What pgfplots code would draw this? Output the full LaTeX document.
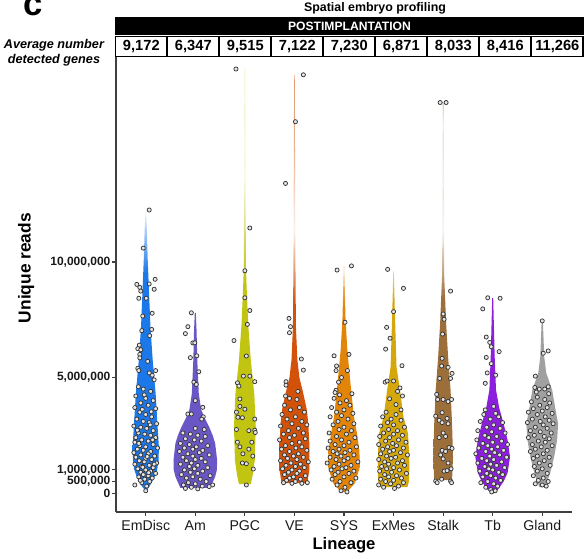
\documentclass[border=0pt]{standalone}
\usepackage{fontspec}
\setmainfont{Liberation Sans}
\usepackage{pgfplots}
\pgfplotsset{compat=1.18}

\definecolor{cEm}{RGB}{28,120,232}
\definecolor{cAm}{RGB}{106,86,196}
\definecolor{cPGC}{RGB}{194,196,18}
\definecolor{cVE}{RGB}{210,82,10}
\definecolor{cSYS}{RGB}{226,132,8}
\definecolor{cEx}{RGB}{212,168,12}
\definecolor{cSt}{RGB}{156,110,58}
\definecolor{cTb}{RGB}{140,30,222}
\definecolor{cGl}{RGB}{160,160,160}

% violins fade to white towards the thin upper tail
\pgfdeclareverticalshading{fEm}{100bp}{color(0bp)=(cEm); color(64bp)=(cEm); color(75bp)=(cEm!8!white); color(100bp)=(cEm!8!white)}
\pgfdeclareverticalshading{fPGC}{100bp}{color(0bp)=(cPGC); color(50bp)=(cPGC); color(62bp)=(cPGC!10!white); color(75bp)=(cPGC!40!white); color(100bp)=(cPGC!40!white)}
\pgfdeclareverticalshading{fVE}{100bp}{color(0bp)=(cVE); color(47bp)=(cVE); color(56bp)=(cVE!8!white); color(66bp)=(cVE!45!white); color(75bp)=(cVE!60!white); color(100bp)=(cVE!60!white)}
\pgfdeclareverticalshading{fSYS}{100bp}{color(0bp)=(cSYS); color(66bp)=(cSYS); color(75bp)=(cSYS!30!white); color(100bp)=(cSYS!30!white)}
\pgfdeclareverticalshading{fEx}{100bp}{color(0bp)=(cEx); color(68bp)=(cEx); color(75bp)=(cEx!50!white); color(100bp)=(cEx!50!white)}
\pgfdeclareverticalshading{fSt}{100bp}{color(0bp)=(cSt); color(49bp)=(cSt); color(58bp)=(cSt!8!white); color(72bp)=(cSt!30!white); color(75bp)=(cSt); color(100bp)=(cSt)}

\pgfplotsset{pts/.style={only marks, mark=*, mark size=1.55pt,
  mark options={fill=black!10, draw=black!80, line width=0.55pt}}}

\begin{document}
\begin{tikzpicture}
\path[use as bounding box] (-87pt,-34.5pt) rectangle (354pt,384pt);

\begin{axis}[
    at={(0,0)}, anchor=south west,
    scale only axis, width=342pt, height=341.25pt,
    xmin=0.4, xmax=9.6, ymin=-0.82, ymax=18.87,
    axis lines*=left,
    axis line style={black!75, line width=1pt},
    tick align=outside, major tick length=3pt,
    tick style={black!75, line width=0.8pt},
    xtick={1,2,3,4,5,6,7,8,9},
    xticklabels={EmDisc,Am,PGC,VE,SYS,ExMes,Stalk,Tb,Gland},
    xticklabel style={font=\fontsize{10.6}{12}\selectfont, text=black!90},
    ytick={0,0.5,1,5,10},
    yticklabels={0,{500,000},{1,000,000},{5,000,000},{10,000,000}},
    yticklabel style={font=\bfseries\fontsize{9}{10}\selectfont, inner sep=1pt, text=black!90},
    xlabel={Lineage},
    xlabel style={at={(axis description cs:0.5,-0.072)}, anchor=center,
      font=\bfseries\fontsize{12.5}{14}\selectfont},
    ylabel={Unique reads},
    ylabel style={at={(axis description cs:-0.197,0.536)}, anchor=center,
      font=\bfseries\fontsize{13}{15}\selectfont},
]
% ---- EmDisc ----
\addplot[draw=none, shade, shading=fEm] coordinates {
 (1,0.09) (1.08,0.3) (1.18,0.7) (1.23,1.0) (1.26,1.43) (1.265,2.0) (1.24,2.86) (1.2,4.3)
 (1.14,5.76) (1.095,7.2) (1.067,8.66) (1.04,10.1) (1.02,11.5) (1.005,12.2)
 (0.995,12.2) (0.98,11.5) (0.96,10.1) (0.933,8.66) (0.905,7.2) (0.86,5.76) (0.8,4.3)
 (0.76,2.86) (0.735,2.0) (0.74,1.43) (0.77,1.0) (0.82,0.7) (0.92,0.3) (1,0.09)};
% ---- Am ----
\addplot[draw=none, fill=cAm] coordinates {
 (2.30,0.22) (2.40,0.7) (2.435,1.0) (2.44,1.43) (2.40,2.16) (2.35,2.5) (2.28,2.86) (2.2,3.2)
 (2.12,3.6) (2.07,4.3) (2.04,5.76) (2.026,7.0) (2.01,7.8)
 (1.99,7.8) (1.974,7.0) (1.96,5.76) (1.93,4.3) (1.88,3.6) (1.8,3.2) (1.72,2.86) (1.65,2.5)
 (1.60,2.16) (1.56,1.43) (1.565,1.0) (1.60,0.7) (1.70,0.22)};
% ---- PGC ----
\addplot[draw=none, shade, shading=fPGC] coordinates {
 (3.12,0.39) (3.16,0.8) (3.2,1.43) (3.22,2.86) (3.19,4.3) (3.12,5.75) (3.07,7.2) (3.04,8.66)
 (3.02,9.8) (3.014,14) (3.004,18.35)
 (2.996,18.35) (2.986,14) (2.98,9.8) (2.96,8.66) (2.93,7.2) (2.88,5.75) (2.81,4.3) (2.78,2.86)
 (2.8,1.43) (2.84,0.8) (2.88,0.39)};
% ---- VE ----
\addplot[draw=none, shade, shading=fVE] coordinates {
 (4.26,0.43) (4.30,1.0) (4.30,2.16) (4.28,3.0) (4.25,3.6) (4.18,4.3) (4.10,5.0) (4.06,5.75)
 (4.03,7.2) (4.02,10) (4.006,18.1)
 (3.994,18.1) (3.98,10) (3.97,7.2) (3.94,5.75) (3.90,5.0) (3.82,4.3) (3.75,3.6) (3.72,3.0)
 (3.70,2.16) (3.70,1.0) (3.74,0.43)};
% ---- SYS ----
\addplot[draw=none, shade, shading=fSYS] coordinates {
 (5.06,0.04) (5.22,0.43) (5.32,1.13) (5.31,1.86) (5.26,2.6) (5.2,3.3) (5.13,4.76) (5.067,6.2)
 (5.03,7.6) (5.005,9.83)
 (4.995,9.83) (4.97,7.6) (4.933,6.2) (4.87,4.76) (4.8,3.3) (4.74,2.6) (4.69,1.86) (4.68,1.13)
 (4.78,0.43) (4.94,0.04)};
% ---- ExMes ----
\addplot[draw=none, shade, shading=fEx] coordinates {
 (6.28,0.26) (6.31,0.5) (6.32,1.13) (6.31,1.9) (6.29,2.6) (6.2,3.3) (6.13,4.46) (6.06,5.45)
 (6.026,7.85) (6.005,9.6)
 (5.995,9.6) (5.974,7.85) (5.94,5.45) (5.87,4.46) (5.8,3.3) (5.71,2.6) (5.69,1.9) (5.68,1.13)
 (5.69,0.5) (5.72,0.26)};
% ---- Stalk ----
\addplot[draw=none, shade, shading=fSt] coordinates {
 (7.18,0.56) (7.2,1.56) (7.18,3.0) (7.15,4.46) (7.10,5.9) (7.06,7.36) (7.02,9.5) (7.005,16.9)
 (6.995,16.9) (6.98,9.5) (6.94,7.36) (6.90,5.9) (6.85,4.46) (6.82,3.0) (6.8,1.56) (6.82,0.56)};
% ---- Tb ----
\addplot[draw=none, fill=cTb] coordinates {
 (8.01,0.0) (8.1,0.13) (8.22,0.5) (8.30,0.87) (8.35,1.56) (8.30,2.3) (8.22,3.0) (8.13,3.7)
 (8.067,4.46) (8.04,5.9) (8.01,8.44)
 (7.99,8.44) (7.96,5.9) (7.933,4.46) (7.87,3.7) (7.78,3.0) (7.70,2.3) (7.65,1.56) (7.70,0.87)
 (7.78,0.5) (7.9,0.13) (7.99,0.0)};
% ---- Gland ----
\addplot[draw=none, fill=cGl] coordinates {
 (9.06,0.26) (9.16,0.87) (9.24,1.56) (9.30,2.3) (9.32,3.0) (9.26,3.7) (9.2,4.46) (9.08,5.2)
 (9.04,5.9) (9.012,7.45)
 (8.988,7.45) (8.96,5.9) (8.92,5.2) (8.8,4.46) (8.74,3.7) (8.68,3.0) (8.70,2.3) (8.76,1.56)
 (8.84,0.87) (8.94,0.26)};

% ---- points ----
\addplot[pts] coordinates {
 (1.07,12.25) (0.95,10.6) (0.82,9.03) (0.88,8.9) (0.9,8.74) (1.19,9.25) (1.17,8.82) (1.07,9.05)
 (0.86,8.43) (1.01,8.43) (1.13,7.78) (0.94,7.66) (1.12,7.08) (0.92,7.03) (1.08,6.81) (0.87,6.4)
 (0.84,6.25) (0.9,6.2) (0.88,6.0) (0.88,5.85) (1.04,5.7) (0.84,5.4) (0.86,5.3) (1.2,5.3)
 (1.13,5.1) (1.07,5.2) (1.17,4.9)
 (0.85,4.6) (0.95,4.5) (1.1,4.4) (0.8,4.2) (1.0,4.1) (1.15,4.0) (0.9,3.9) (1.05,3.8) (0.78,3.7)
 (1.2,3.65) (0.88,3.5) (1.0,3.4) (1.12,3.3) (0.82,3.2) (0.95,3.1) (1.07,3.05) (1.22,3.0)
 (0.76,2.9) (0.9,2.85) (1.02,2.8) (1.15,2.7) (0.85,2.6) (0.98,2.55) (1.1,2.5) (0.8,2.4) (1.2,2.4)
 (0.92,2.3) (1.05,2.25) (0.78,2.2) (1.15,2.1) (0.88,2.05) (1.0,2.0) (1.24,1.95) (0.83,1.9)
 (0.95,1.85) (1.1,1.8) (0.76,1.75) (1.05,1.7) (0.9,1.65) (1.18,1.6) (0.8,1.55) (1.0,1.5)
 (1.12,1.45) (0.87,1.4) (0.97,1.35) (1.22,1.3) (0.78,1.25) (1.07,1.2) (0.92,1.15) (1.15,1.1)
 (0.84,1.05) (1.0,1.0) (1.1,0.95) (0.9,0.9) (1.2,0.85) (0.95,0.8) (1.05,0.75) (0.86,0.7)
 (1.13,0.65) (0.98,0.6) (1.08,0.5) (0.92,0.45) (1.02,0.3) (0.78,0.35) (1.0,0.1)
 (0.93,3.62) (1.09,2.95) (0.86,2.15) (1.03,1.58) (1.17,1.25) (0.94,1.12) (1.06,0.88) (0.89,0.55)
 (1.14,2.3) (0.97,4.25) (1.11,3.52) (0.83,2.72)};
\addplot[pts] coordinates {
 (1.92,7.8) (1.85,7.2) (1.8,6.9) (1.95,6.5) (1.99,6.5) (1.9,5.86) (2.03,5.94) (2.07,5.25)
 (1.97,4.8) (2.02,4.7) (2.0,4.0) (1.85,3.42) (1.92,3.42) (2.15,3.71) (2.16,3.3) (2.13,3.2)
 (2.0,2.8) (2.18,2.75)
 (1.75,2.6) (1.9,2.55) (2.05,2.5) (2.2,2.45) (1.8,2.35) (1.98,2.3) (2.12,2.25) (1.7,2.15)
 (1.88,2.1) (2.25,2.05) (2.02,2.0) (1.78,1.95) (1.95,1.9) (2.15,1.85) (1.68,1.8) (2.08,1.75)
 (1.85,1.7) (2.28,1.65) (1.95,1.6) (1.75,1.55) (2.12,1.5) (2.0,1.45) (1.82,1.4) (2.2,1.35)
 (1.92,1.3) (1.7,1.25) (2.05,1.2) (1.88,1.15) (2.25,1.1) (1.98,1.05) (1.78,1.0) (2.15,0.95)
 (1.9,0.9) (2.05,0.85) (1.72,0.8) (2.3,0.75) (1.95,0.7) (1.82,0.65) (2.1,0.6) (2.22,0.5)
 (1.86,0.45) (2.0,0.4) (1.76,0.35) (2.14,0.3) (1.92,0.25) (2.35,0.35) (2.28,0.28) (1.8,0.2)
 (2.05,0.18)};
\addplot[pts] coordinates {
 (2.82,18.35) (3.1,11.47) (3.0,9.62) (3.0,8.45) (3.1,7.9) (3.05,7.3) (2.78,6.6) (3.03,5.93)
 (2.97,5.06) (3.1,5.06) (2.85,4.77) (2.88,4.63) (3.2,4.82) (2.9,4.07) (2.9,3.75) (3.0,3.63)
 (2.83,3.5) (2.86,3.28) (2.95,3.26) (3.2,3.2) (2.83,2.75) (3.08,2.7) (3.2,2.72) (3.21,2.62)
 (3.14,2.2) (2.85,2.2) (2.9,2.0) (3.08,1.9) (2.96,1.7) (3.16,1.6) (2.95,1.3) (3.03,1.27)
 (3.17,1.04) (3.03,0.35)};
\addplot[pts] coordinates {
 (4.18,18.1) (4.02,16.07) (3.82,13.4) (3.89,7.56) (3.92,7.2) (3.9,6.94) (4.14,5.8) (4.18,5.32)
 (3.83,4.82) (3.83,4.67) (4.07,4.4) (3.82,4.2) (3.9,4.1) (4.05,4.05)
 (3.8,3.8) (4.1,3.7) (3.92,3.6) (4.2,3.5) (3.75,3.4) (4.02,3.3) (3.85,3.2) (4.15,3.1) (3.95,3.0)
 (4.25,2.95) (3.72,2.9) (4.08,2.8) (3.88,2.7) (4.18,2.6) (3.78,2.55) (4.0,2.5) (3.9,2.4)
 (4.22,2.35) (3.7,2.3) (4.1,2.2) (3.95,2.15) (3.82,2.05) (4.15,2.0) (4.03,1.95) (3.74,1.9)
 (4.25,1.85) (3.9,1.8) (4.08,1.7) (3.8,1.65) (3.98,1.6) (4.18,1.55) (3.86,1.5) (4.05,1.45)
 (3.72,1.4) (4.28,1.35) (3.93,1.3) (4.12,1.25) (3.83,1.2) (4.02,1.15) (4.2,1.1) (3.76,1.05)
 (3.95,1.0) (4.1,0.95) (3.88,0.9) (4.05,0.85) (3.8,0.8) (4.22,0.75) (3.98,0.7) (3.9,0.65)
 (4.12,0.6) (3.84,0.55) (4.02,0.5) (4.26,0.45) (3.95,0.42) (3.78,0.45) (4.15,0.42)};
\addplot[pts] coordinates {
 (4.86,9.65) (5.15,9.83) (5.02,7.39) (4.8,5.94) (5.1,6.0) (4.85,5.5) (5.07,5.3) (4.84,5.3)
 (4.95,5.0) (4.89,4.8) (4.84,4.45) (4.82,4.35) (4.91,4.25) (5.16,4.3)
 (4.8,4.1) (5.05,4.0) (4.92,3.9) (5.12,3.8) (4.75,3.7) (5.0,3.6) (4.85,3.5) (5.18,3.45)
 (4.95,3.35) (4.72,3.3) (5.08,3.2) (4.88,3.1) (5.2,3.0) (4.78,2.95) (5.0,2.85) (4.9,2.75)
 (5.15,2.7) (4.7,2.6) (5.05,2.55) (4.85,2.45) (5.22,2.4) (4.95,2.3) (4.72,2.25) (5.1,2.2)
 (4.82,2.1) (5.0,2.05) (5.25,2.0) (4.68,1.95) (4.9,1.9) (5.12,1.85) (4.78,1.8) (5.02,1.75)
 (4.86,1.7) (5.2,1.65) (4.94,1.6) (4.72,1.55) (5.08,1.5) (4.84,1.45) (5.0,1.4) (5.28,1.35)
 (4.66,1.3) (4.9,1.25) (5.14,1.2) (4.8,1.15) (5.04,1.1) (4.96,1.05) (4.74,1.0) (5.2,0.95)
 (4.88,0.9) (5.1,0.85) (4.82,0.8) (5.0,0.7) (5.24,0.65) (4.76,0.6) (4.92,0.5) (5.14,0.45)
 (4.86,0.35) (5.02,0.25) (4.94,0.1) (5.06,0.05)};
\addplot[pts] coordinates {
 (5.88,9.68) (6.2,8.86) (6.0,7.85) (5.86,7.17) (5.93,6.7) (5.84,6.23) (6.17,5.51) (5.83,4.8)
 (5.87,4.85) (6.0,4.85) (6.13,4.55) (6.08,4.4) (6.18,4.2) (5.92,4.08) (6.05,3.83) (6.15,3.6)
 (5.85,3.5) (6.05,3.4) (5.78,3.3) (5.95,3.2) (6.15,3.15) (5.88,3.05) (6.0,2.95) (5.74,2.9)
 (6.22,2.85) (5.9,2.75) (6.08,2.7) (5.8,2.6) (6.0,2.55) (6.18,2.5) (5.72,2.45) (5.92,2.4)
 (6.1,2.3) (5.84,2.25) (6.25,2.2) (5.98,2.15) (5.7,2.1) (6.06,2.05) (5.88,2.0) (6.2,1.95)
 (5.78,1.9) (6.0,1.85) (5.92,1.8) (6.14,1.75) (5.74,1.7) (6.28,1.65) (5.86,1.6) (6.04,1.55)
 (5.95,1.5) (5.7,1.45) (6.18,1.4) (5.82,1.35) (6.08,1.3) (5.9,1.25) (6.22,1.2) (5.76,1.15)
 (6.0,1.1) (5.86,1.05) (6.12,1.0) (5.72,0.95) (5.96,0.9) (6.26,0.85) (5.82,0.8) (6.06,0.75)
 (5.9,0.7) (6.16,0.65) (5.74,0.6) (6.0,0.55) (5.84,0.5) (6.2,0.45) (5.94,0.4) (5.7,0.35)
 (6.1,0.3) (5.8,0.25) (6.02,0.2)};
\addplot[pts] coordinates {
 (6.94,16.9) (7.06,16.9) (7.15,8.74) (7.0,7.75) (7.02,7.52) (6.99,6.88) (6.98,5.83) (6.97,5.5)
 (7.1,5.44) (7.18,5.18) (6.93,4.96) (7.15,4.96) (6.87,4.27) (6.89,4.05) (7.0,4.05) (7.1,3.96)
 (7.17,4.05) (6.98,3.48) (6.85,3.33) (7.08,3.23) (6.92,3.15) (6.98,3.05) (7.1,3.0) (7.0,2.6)
 (7.05,2.45) (6.92,2.4) (7.12,1.97) (7.18,1.93) (6.98,1.85) (7.05,1.8) (6.95,1.65) (7.0,1.48)
 (7.1,1.3) (7.16,1.05) (7.02,0.95) (7.08,0.97) (6.97,0.6) (6.85,0.52) (6.88,0.45) (7.15,0.52)
 (7.17,0.45)};
\addplot[pts] coordinates {
 (7.9,8.45) (8.15,8.43) (7.8,7.97) (7.94,6.52) (7.97,6.33) (8.13,6.12) (7.87,6.75) (7.87,5.87)
 (7.97,5.6) (7.89,5.2) (8.06,5.1) (7.85,4.75) (7.85,3.6) (8.02,3.75) (8.06,3.45)
 (7.82,3.4) (8.12,3.3) (7.95,3.2) (7.75,3.1) (8.2,3.05) (8.02,2.95) (7.88,2.85) (8.15,2.8)
 (7.7,2.7) (7.98,2.65) (8.25,2.6) (7.84,2.5) (8.08,2.45) (7.92,2.4) (7.68,2.3) (8.18,2.25)
 (8.0,2.2) (7.8,2.15) (8.3,2.1) (7.9,2.05) (8.1,2.0) (7.72,1.95) (7.98,1.9) (8.22,1.85)
 (7.86,1.8) (8.04,1.75) (7.66,1.7) (8.14,1.65) (7.94,1.6) (8.28,1.55) (7.78,1.5) (8.02,1.45)
 (7.88,1.4) (8.18,1.35) (7.7,1.3) (7.96,1.25) (8.08,1.2) (7.84,1.15) (8.24,1.1) (7.92,1.05)
 (8.0,1.0) (7.74,0.95) (8.12,0.9) (7.88,0.85) (8.2,0.8) (7.96,0.75) (7.8,0.7) (8.06,0.65)
 (8.16,0.55) (7.9,0.5) (7.76,0.45) (8.02,0.4) (8.1,0.3) (7.86,0.25) (7.96,0.15) (8.05,0.1)
 (7.98,0.05)};
\addplot[pts] coordinates {
 (9.0,7.45) (9.02,6.05) (9.12,6.15) (8.86,5.06) (8.85,4.57) (8.88,4.37) (8.94,4.5) (9.05,4.5)
 (9.12,4.6) (9.13,4.3)
 (8.9,4.15) (9.05,4.05) (8.78,3.95) (9.15,3.9) (8.95,3.8) (9.1,3.7) (8.82,3.65) (9.0,3.55)
 (8.72,3.5) (9.2,3.45) (8.9,3.4) (9.06,3.3) (8.8,3.2) (9.14,3.15) (8.96,3.1) (8.7,3.05)
 (9.22,3.0) (9.02,2.95) (8.86,2.85) (9.1,2.8) (8.76,2.7) (8.96,2.65) (9.18,2.6) (8.84,2.5)
 (9.04,2.45) (8.72,2.4) (9.14,2.35) (8.92,2.25) (9.06,2.2) (8.8,2.1) (9.2,2.05) (8.98,2.0)
 (8.86,1.9) (9.1,1.85) (8.76,1.8) (9.02,1.7) (8.9,1.6) (9.14,1.55) (8.82,1.5) (9.04,1.4)
 (8.94,1.3) (9.16,1.2) (8.84,1.15) (9.0,1.05) (8.9,0.95) (9.1,0.85) (8.82,0.75) (9.02,0.65)
 (8.92,0.55) (9.12,0.5) (8.86,0.4) (9.0,0.35) (9.08,0.3)};
\end{axis}

% ---- header table ----
\node[font=\bfseries\fontsize{26}{26}\selectfont, anchor=center] at (-62pt,379pt) {c};
\node[font=\bfseries\fontsize{9.3}{11}\selectfont] at (194.25pt,377.5pt) {Spatial embryo profiling};
\fill[black] (-0.75pt,357.75pt) rectangle (351pt,371.25pt);
\node[font=\bfseries\fontsize{9.1}{11}\selectfont, text=white] at (175.1pt,364.5pt) {POSTIMPLANTATION};
\foreach \v [count=\i from 0] in {{9,172},{6,347},{9,515},{7,122},{7,230},{6,871},{8,033},{8,416},{11,266}}{
  \draw[black, line width=1pt] (-0.25pt+\i*39pt,341.5pt) rectangle (38.25pt+\i*39pt,356.5pt);
  \node[font=\bfseries\fontsize{11}{12}\selectfont] at (19pt+\i*39pt,349pt) {\v};
}
\node[font=\bfseries\itshape\fontsize{9.5}{11}\selectfont, align=center, anchor=east]
  at (-5.5pt,344.5pt) {Average number\\detected genes};
\end{tikzpicture}
\end{document}
